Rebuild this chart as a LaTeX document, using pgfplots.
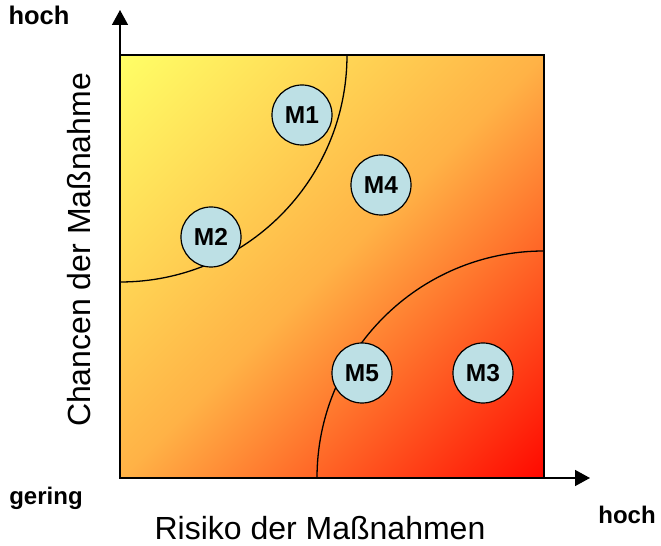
\documentclass[border=0pt]{standalone}
\usepackage{pgfplots}
\pgfplotsset{compat=1.18}
\usepackage{fontspec}
\setmainfont{Liberation Sans}
\usetikzlibrary{arrows.meta}
\definecolor{circ}{RGB}{189,224,229}
\begin{document}
\begin{tikzpicture}
\begin{axis}[
    x=1bp, y=1bp,
    xmin=0, xmax=424, ymin=0, ymax=423,
    xtick=\empty, ytick=\empty,
    axis line style={line width=1.5bp},
    axis on top,
    clip=false,
    colormap={chance}{rgb255(0)=(255,255,102) rgb255(1)=(255,178,70) rgb255(2)=(255,8,0)},
]
% background gradient, yellow (top left) to red (bottom right)
\addplot[patch, shader=interp, point meta=explicit, point meta min=0, point meta max=2] table[meta=c] {
x y c
0 0 1
424 0 2
424 423 1
0 0 1
424 423 1
0 423 0
};
% zone boundaries
\draw[line width=1.3bp] (axis cs:227,423) arc[start angle=0, end angle=-90, radius=227bp];
\draw[line width=1.3bp] (axis cs:197,0) arc[start angle=180, end angle=90, radius=227bp];
% measures
\addplot[only marks, mark=*, mark size=30bp,
    mark options={draw=black, fill=circ, line width=1.2bp},
    point meta=explicit symbolic, nodes near coords,
    every node near coord/.append style={font=\fontsize{24.5bp}{28bp}\bfseries\selectfont, anchor=center}]
    table[meta=lab] {
x y lab
182 363 M1
91 241 M2
363 105 M3
261 293 M4
242 105 M5
};
% axis arrows
\draw[line width=1.5bp, -{Triangle[length=15bp, width=16bp]}] (axis cs:0,0) -- (axis cs:470,0);
\draw[line width=1.5bp, -{Triangle[length=15bp, width=16bp]}] (axis cs:0,0) -- (axis cs:0,468);
% labels
\node[anchor=base, font=\fontsize{25.5bp}{28bp}\bfseries\selectfont] at (axis cs:-81,453) {hoch};
\node[anchor=base, font=\fontsize{24bp}{28bp}\bfseries\selectfont] at (axis cs:-74,-27) {gering};
\node[anchor=base, font=\fontsize{24bp}{28bp}\bfseries\selectfont] at (axis cs:507,-46) {hoch};
\node[anchor=base, font=\fontsize{32bp}{38bp}\selectfont] at (axis cs:200,-62) {Risiko der Maßnahmen};
\node[anchor=base, rotate=90, font=\fontsize{32bp}{38bp}\selectfont] at (axis cs:-29,228) {Chancen der Maßnahme};
\path (axis cs:-120,-68) rectangle (axis cs:541,478);
\end{axis}
\end{tikzpicture}
\end{document}
